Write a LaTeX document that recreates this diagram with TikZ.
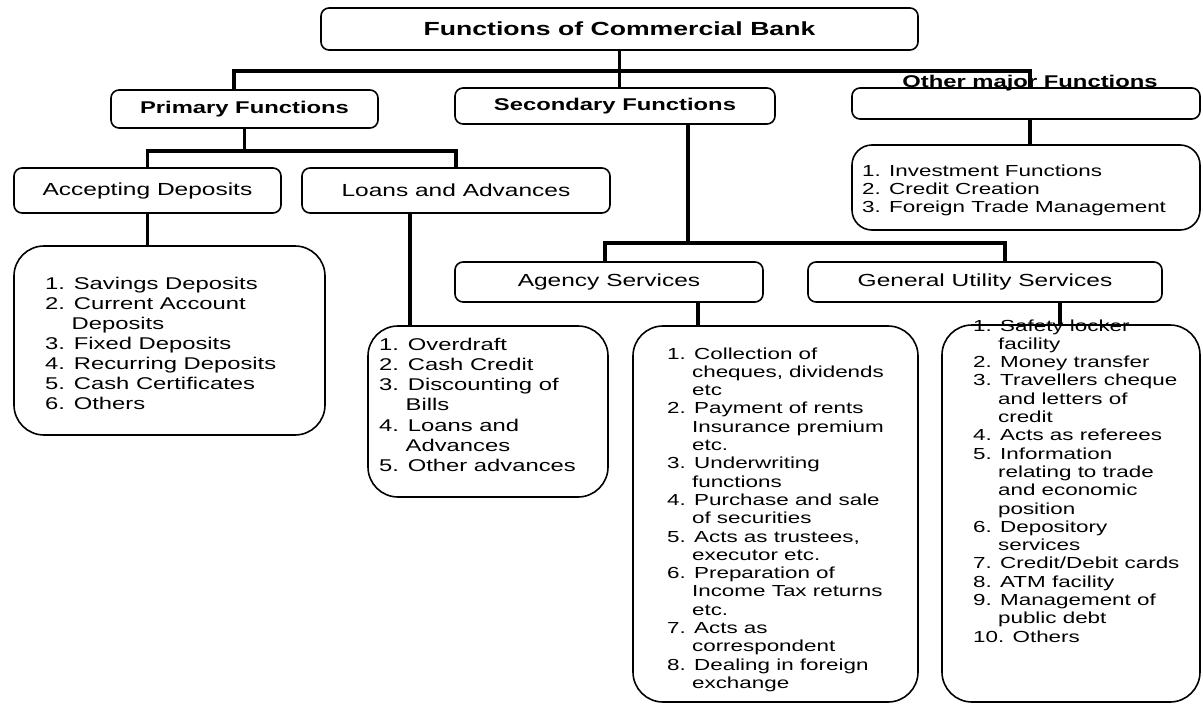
\documentclass[tikz,border=0pt]{standalone}
\usepackage{fontspec}
\setmainfont{Liberation Sans}[FakeStretch=1.4]
\newcommand{\ind}{\phantom{1.\ }}
\newcommand{\listfont}[2]{\fontsize{#1}{#2}\selectfont}
\begin{document}
\begin{tikzpicture}[x=1pt,y=-1pt,
  hbox/.style={draw, line width=1.6pt, rounded corners=8pt, inner sep=0pt},
  listbox/.style={draw, line width=1.6pt, rounded corners=30pt, inner sep=0pt},
  conn/.style={line width=3.2pt},
  boldlbl/.style={font=\bfseries\fontsize{17}{20}\selectfont},
  plainlbl/.style={font=\fontsize{17.5}{20}\selectfont},
  items/.style={inner sep=0pt, anchor=base west}]
\useasboundingbox (0,0) rectangle (1203,704);

% --- header boxes
\node[hbox, minimum width=597pt, minimum height=42pt, font=\bfseries\fontsize{19}{22}\selectfont]
  (top) at (619.5,29) {Functions of Commercial Bank};
\node[hbox, boldlbl, minimum width=267pt, minimum height=38pt] (prim) at (244.5,109) {Primary Functions};
\node[hbox, boldlbl, minimum width=320pt, minimum height=36pt] (sec) at (615,106) {Secondary Functions};
\node[hbox, minimum width=348pt, minimum height=31pt] (oth) at (1026,103.5) {};
\node[boldlbl, inner sep=0pt, anchor=base] (othlbl) at (1030,87) {Other major Functions};

\node[hbox, plainlbl, minimum width=267pt, minimum height=45pt] (acc) at (147.5,190.5) {Accepting Deposits};
\node[hbox, plainlbl, minimum width=308pt, minimum height=45pt] (loan) at (456,190.5) {Loans and Advances};
\node[hbox, plainlbl, minimum width=308pt, minimum height=40pt] (agency) at (609,282) {Agency Services};
\node[hbox, plainlbl, minimum width=354pt, minimum height=40pt] (gus) at (985,282) {General Utility Services};

% --- list boxes
\node[listbox, minimum width=348pt, minimum height=85pt, rounded corners=20pt] (othlist) at (1026,187.5) {};
\node[listbox, minimum width=311pt, minimum height=189pt] (acclist) at (169.5,340.5) {};
\node[listbox, minimum width=240pt, minimum height=171pt] (loanlist) at (488,411.5) {};
\node[listbox, minimum width=285pt, minimum height=376pt] (aglist) at (775.5,514) {};
\node[listbox, minimum width=258pt, minimum height=377pt] (guslist) at (1071,513.5) {};

% --- connectors
\coordinate (hl) at (234,71);
\coordinate (hr) at (1030,71);
\draw[conn] (top.south) -- (top.south |- sec.north);
\draw[conn] (hl |- prim.north) -- (hl) -- (hr) -- (hr |- oth.north);
\draw[conn] (hr |- oth.south) -- (hr |- othlist.north);

\coordinate (pbar) at (0,151);
\draw[conn] (prim.south) -- (prim.south |- pbar);
\draw[conn] (acc.north) -- (acc.north |- pbar) -- (loan.north |- pbar) -- (loan.north);
\draw[conn] (acc.south) -- (acc.south |- acclist.north);
\coordinate (lx) at (410,0);
\draw[conn] (lx |- loan.south) -- (lx |- loanlist.north);

\coordinate (sx) at (688,243);
\coordinate (sl) at (605,243);
\coordinate (sr) at (1005,243);
\draw[conn] (sx |- sec.south) -- (sx);
\draw[conn] (sl |- agency.north) -- (sl) -- (sr) -- (sr |- gus.north);
\coordinate (ax) at (698,0);
\draw[conn] (ax |- agency.south) -- (ax |- aglist.north);
\coordinate (gx) at (1060,0);
\draw[conn] (gx |- gus.south) -- (gx |- guslist.north);

% --- list texts
\node[items, font=\listfont{16}{18}] (othtxt) at (862,176) {\begin{tabular}[t]{@{}l@{}}
1. Investment Functions\\
2. Credit Creation\\
3. Foreign Trade Management
\end{tabular}};

\node[items, font=\listfont{17}{20}] (acctxt) at (45,289) {\begin{tabular}[t]{@{}l@{}}
1. Savings Deposits\\
2. Current Account\\
\ind Deposits\\
3. Fixed Deposits\\
4. Recurring Deposits\\
5. Cash Certificates\\
6. Others
\end{tabular}};

\node[items, font=\listfont{17}{20.3}] (loantxt) at (379,350) {\begin{tabular}[t]{@{}l@{}}
1. Overdraft\\
2. Cash Credit\\
3. Discounting of\\
\ind Bills\\
4. Loans and\\
\ind Advances\\
5. Other advances
\end{tabular}};

\node[items, font=\listfont{16}{18.3}] (agtxt) at (667,359) {\begin{tabular}[t]{@{}l@{}}
1. Collection of\\
\ind cheques, dividends\\
\ind etc\\
2. Payment of rents\\
\ind Insurance premium\\
\ind etc.\\
3. Underwriting\\
\ind functions\\
4. Purchase and sale\\
\ind of securities\\
5. Acts as trustees,\\
\ind executor etc.\\
6. Preparation of\\
\ind Income Tax returns\\
\ind etc.\\
7. Acts as\\
\ind correspondent\\
8. Dealing in foreign\\
\ind exchange
\end{tabular}};

\node[items, font=\listfont{16}{18.3}] (gustxt) at (973,331) {\begin{tabular}[t]{@{}l@{}}
1. Safety locker\\
\ind facility\\
2. Money transfer\\
3. Travellers cheque\\
\ind and letters of\\
\ind credit\\
4. Acts as referees\\
5. Information\\
\ind relating to trade\\
\ind and economic\\
\ind position\\
6. Depository\\
\ind services\\
7. Credit/Debit cards\\
8. ATM facility\\
9. Management of\\
\ind public debt\\
10. Others
\end{tabular}};
\end{tikzpicture}
\end{document}
